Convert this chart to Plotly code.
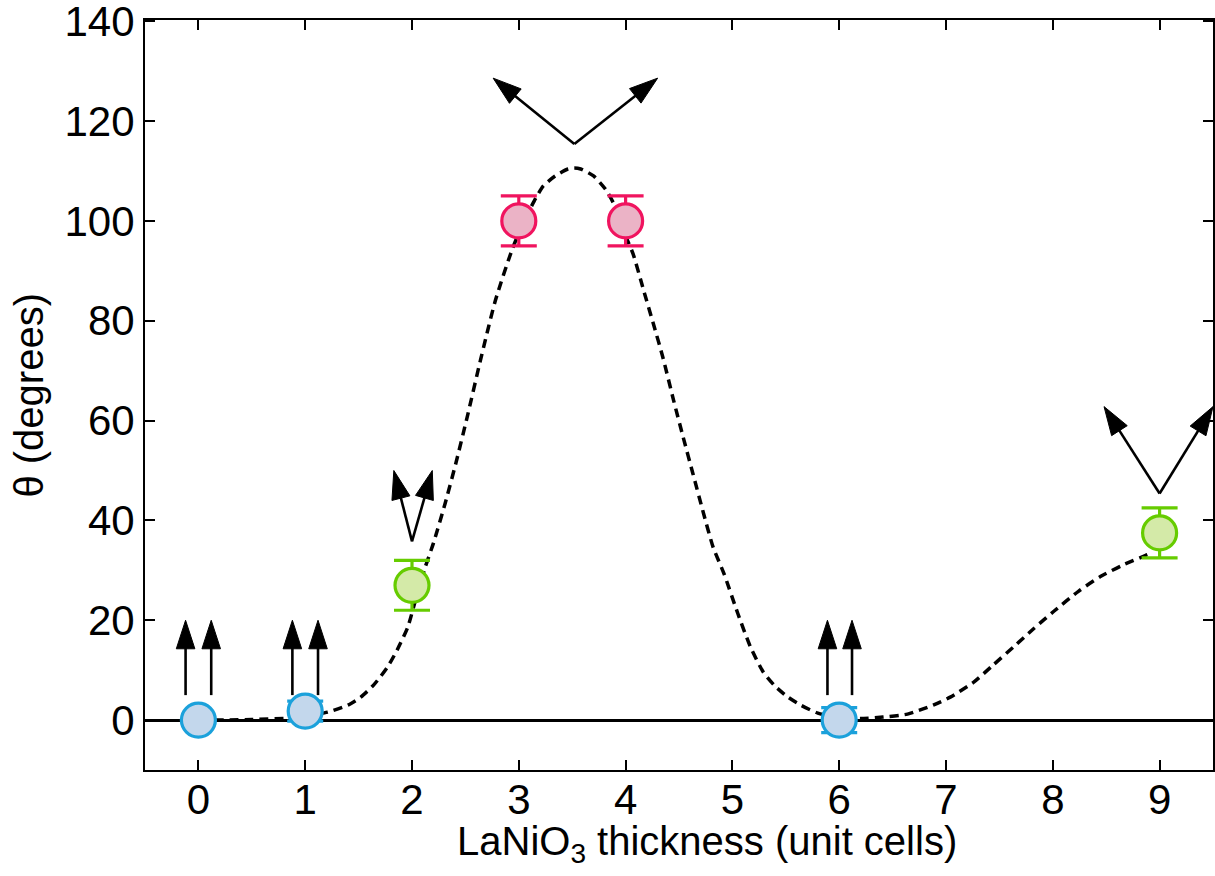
import plotly.graph_objects as go

# ---- data ----
thickness = [0, 1, 2, 3, 4, 6, 9]
theta = [0, 1.8, 27, 100, 100, 0, 37.5]
theta_err = [0, 2, 5, 5, 5, 2.5, 5]
phase = ["blue", "blue", "green", "pink", "pink", "blue", "green"]

curve_x = [0.15, 0.5, 0.85, 1.0, 1.21, 1.40, 1.52, 1.64, 1.77, 1.86, 1.96, 2.04, 2.12, 2.20,
           2.31, 2.41, 2.52, 2.64, 2.78, 2.94, 3.05, 3.16, 3.23, 3.34, 3.46, 3.52, 3.58, 3.70,
           3.81, 3.89, 4.0, 4.07, 4.17, 4.26, 4.35, 4.45, 4.54, 4.63, 4.73, 4.82, 4.92, 5.05,
           5.17, 5.29, 5.40, 5.52, 5.64, 5.80, 6.0, 6.2, 6.41, 6.64, 6.88, 7.04, 7.26, 7.44, 7.63,
           7.82, 8.01, 8.24, 8.45, 8.65, 8.87, 8.93]
curve_y = [0, 0.1, 0.4, 0.7, 1.6, 3.0, 4.6, 7.0, 10.6, 14.0, 18.6, 24.6, 30.4, 35.4,
           43.4, 51.4, 61.0, 72.0, 84.0, 94.4, 100.0, 104.6, 107.0, 109.0, 110.4, 110.6, 110.4, 109.0,
           106.4, 103.4, 97.0, 93.4, 86.0, 79.4, 72.6, 64.0, 56.6, 49.4, 41.4, 34.6, 29.4, 21.4,
           14.6, 9.6, 6.8, 4.6, 3.0, 1.4, 0.5, 0.3, 0.6, 1.2, 3.0, 4.6, 7.6, 11.0, 14.6,
           18.3, 21.8, 25.8, 28.8, 31.0, 33.0, 33.5]

# spin arrows (tail -> tip), data coordinates
arrow_tail_x = [-0.12, 0.12, 0.88, 1.12, 5.89, 6.12, 2.0, 2.0, 3.52, 3.52, 9.0, 9.0]
arrow_tail_y = [5, 5, 5, 5, 5, 5, 35.8, 35.8, 115.4, 115.4, 45.4, 45.4]
arrow_tip_x = [-0.12, 0.12, 0.88, 1.12, 5.89, 6.12, 1.83, 2.19, 2.76, 4.30, 8.48, 9.50]
arrow_tip_y = [20, 20, 20, 20, 20, 20, 50, 50, 128.6, 128.6, 62.8, 62.8]

x_ticks = [0, 1, 2, 3, 4, 5, 6, 7, 8, 9]
y_ticks = [0, 20, 40, 60, 80, 100, 120, 140]

styles = {
    "blue": dict(line="#1ba1db", fill="#c3d7ec"),
    "pink": dict(line="#f0145f", fill="#ebb3c6"),
    "green": dict(line="#66cc00", fill="#d4eaa8"),
}

FONT = "Liberation Sans, Arial, Helvetica, sans-serif"

fig = go.Figure()

# dashed guide curve
fig.add_trace(go.Scatter(
    x=curve_x, y=curve_y, mode="lines",
    line=dict(color="black", width=3.5, dash="9px,6px", shape="spline", smoothing=0.6),
    hoverinfo="skip", showlegend=False,
))

# data points per phase
for key in ["blue", "green", "pink"]:
    idx = [i for i, p in enumerate(phase) if p == key]
    st = styles[key]
    fig.add_trace(go.Scatter(
        x=[thickness[i] for i in idx],
        y=[theta[i] for i in idx],
        mode="markers",
        marker=dict(symbol="circle", size=34, color=st["fill"],
                    line=dict(color=st["line"], width=3.2)),
        error_y=dict(type="data", array=[theta_err[i] for i in idx],
                     color=st["line"], thickness=3.2, width=18),
        showlegend=False, cliponaxis=False,
    ))

# arrows
for tx, ty, hx, hy in zip(arrow_tail_x, arrow_tail_y, arrow_tip_x, arrow_tip_y):
    fig.add_trace(go.Scatter(
        x=[tx, hx], y=[ty, hy], mode="lines+markers",
        line=dict(color="#000000", width=2.6),
        marker=dict(symbol="arrow", size=[0, 30], color="#000000", opacity=1,
                    angleref="previous", line=dict(width=1, color="#000000")),
        showlegend=False, cliponaxis=False, hoverinfo="skip",
    ))

axis_common = dict(
    showline=True, linecolor="black", linewidth=2, mirror="ticks",
    ticks="inside", ticklen=10, tickwidth=2, tickcolor="black",
    showgrid=False, automargin=False, ticklabeloverflow="allow",
    tickfont=dict(family=FONT, size=42, color="black"),
)

fig.update_layout(
    width=1215, height=876,
    margin=dict(l=145, r=2, t=20, b=106),
    paper_bgcolor="white", plot_bgcolor="white",
    font=dict(family=FONT, color="black"),
    xaxis=dict(range=[-0.5, 9.5], tickvals=x_ticks, zeroline=False,
               ticklabelstandoff=-8, **axis_common),
    yaxis=dict(range=[-10, 140.25], tickvals=y_ticks,
               zeroline=True, zerolinecolor="black", zerolinewidth=2.5,
               **axis_common),
    annotations=[
        dict(text="LaNiO<sub>3</sub> thickness (unit cells)", xref="paper", yref="paper",
             x=0.526, y=-0.062, xanchor="center", yanchor="top", showarrow=False,
             font=dict(family=FONT, size=40, color="black")),
        dict(text="θ (degrees)", xref="paper", yref="paper", textangle=-90,
             x=-0.109, y=0.5, xanchor="center", yanchor="middle", showarrow=False,
             font=dict(family=FONT, size=40, color="black")),
    ],
)

fig.write_html("out.html", config={"displayModeBar": False},
               post_script="document.body.style.margin='0px';")
